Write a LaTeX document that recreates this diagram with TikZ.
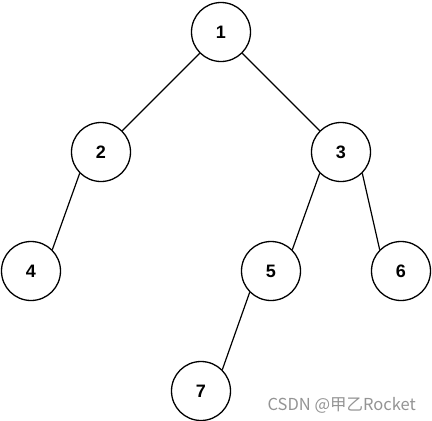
\documentclass[tikz,border=0pt]{standalone}
\usepackage{fontspec}
\setmainfont{Liberation Sans}
\newfontfamily\cjk{Noto Sans CJK SC}
\begin{document}
\begin{tikzpicture}[x=1pt,y=-1pt,
  treenode/.style={circle,draw=black,line width=1.3pt,minimum size=59pt,inner sep=0pt,font=\fontsize{18}{20}\selectfont\bfseries},
  edge/.style={draw=black,line width=1.2pt}]
\useasboundingbox (0,0) rectangle (432,421);
\node[treenode] (n1) at (221,32) {1};
\node[treenode] (n2) at (101,152) {2};
\node[treenode] (n3) at (341,152) {3};
\node[treenode] (n4) at (31,271) {4};
\node[treenode] (n5) at (271,271) {5};
\node[treenode] (n6) at (401,271) {6};
\node[treenode] (n7) at (201,391) {7};
\draw[edge] (n1.south west) -- (n2.north east);
\draw[edge] (n1.south east) -- (n3.north west);
\draw[edge] (n2.south west) -- (n4.north east);
\draw[edge] (n3.south west) -- (n5.north east);
\draw[edge] (n3.south east) -- (n6.north west);
\draw[edge] (n5.south west) -- (n7.north east);
\node[anchor=base east,text=black!42,font=\cjk\fontsize{16.5}{18}\selectfont,inner sep=0pt] (wm) at (416,410) {CSDN @甲乙Rocket};
\end{tikzpicture}
\end{document}
